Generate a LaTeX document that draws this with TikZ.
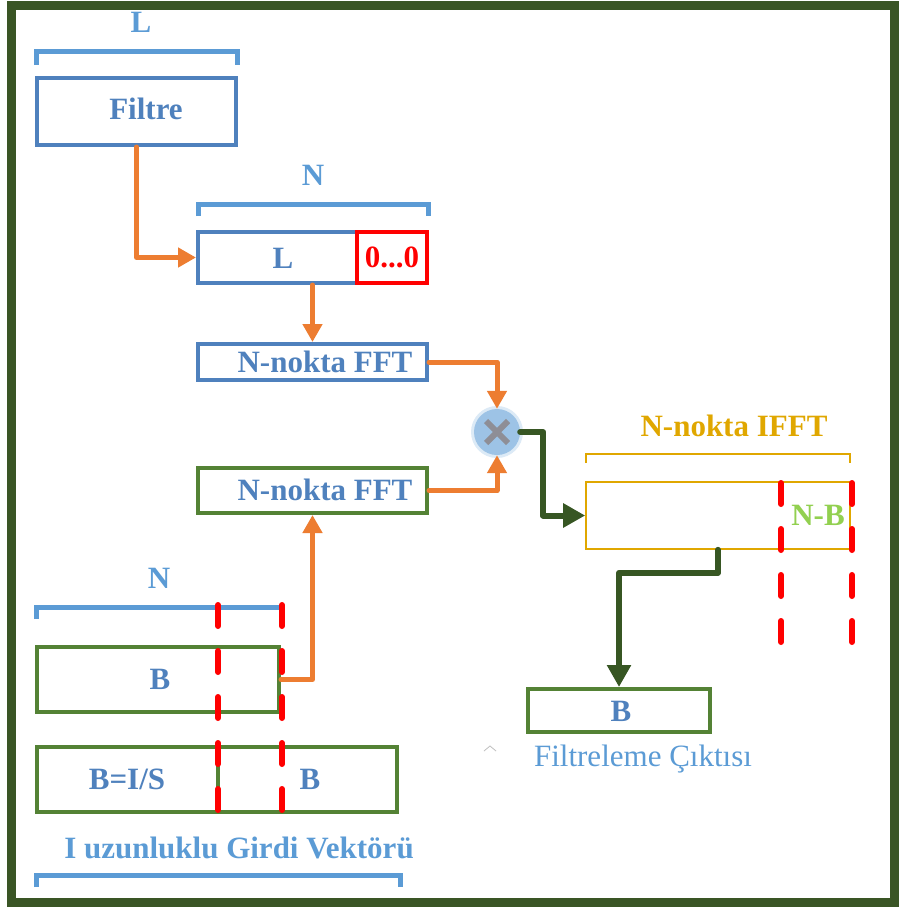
\documentclass[tikz,border=0pt]{standalone}
\usepackage{fontspec}
\setmainfont{Liberation Serif}
\usetikzlibrary{arrows.meta}
\definecolor{framegreen}{RGB}{58,85,37}
\definecolor{boxblue}{RGB}{79,129,189}
\definecolor{lightblue}{RGB}{91,155,213}
\definecolor{boxgreen}{RGB}{84,130,53}
\definecolor{flowor}{RGB}{237,125,49}
\definecolor{goldc}{RGB}{224,167,0}
\definecolor{nbgreen}{RGB}{146,208,80}
\definecolor{darkflow}{RGB}{55,86,35}
\definecolor{multfill}{RGB}{157,195,230}
\definecolor{xgray}{RGB}{142,142,150}
\definecolor{cutred}{RGB}{255,0,0}
\tikzset{
  every node/.style={font=\fontsize{31}{36}\selectfont\bfseries, inner sep=0pt},
  blkblue/.style={draw=boxblue, line width=4pt, minimum width=#1},
  blkgreen/.style={draw=boxgreen, line width=4pt, minimum width=#1},
  bluetxt/.style={text=boxblue},
  labtxt/.style={text=lightblue},
  brace/.style={draw=lightblue, line width=5pt},
  oflow/.style={draw=flowor, line width=5pt, line join=round, line cap=round,
    -{Triangle[width=19pt,length=18pt]}},
  oline/.style={draw=flowor, line width=5pt, line join=round, line cap=round},
  gflow/.style={draw=darkflow, line width=6pt, line join=round, line cap=round,
    -{Triangle[width=23pt,length=22pt]}},
  cutline/.style={draw=cutred, line width=6pt, line cap=round, dash pattern=on 21pt off 25pt},
}
\begin{document}
\begin{tikzpicture}[x=1pt, y=-1pt]
\useasboundingbox (0,0) rectangle (899,907);
\fill[white] (0,0) rectangle (899,907);
% outer frame
\draw[framegreen, line width=9pt] (11,6) rectangle (894,902);

% filter block with its length bracket
\node[labtxt] (lenL) at (141,22) {L};
\draw[brace] (36,65) -- (36,52) -- (237,52) -- (237,65);
\node[blkblue=199pt, minimum height=67pt] (filtre) at (136.5,111.5) {};
\node[bluetxt] (filtretxt) at (146,109) {Filtre};

% zero-padded filter
\node[labtxt] (lenN1) at (313,175) {N};
\draw[brace] (198,216) -- (198,204) -- (428,204) -- (428,216);
\node[blkblue=159pt, minimum height=51pt] (lbox) at (277.5,257.5) {};
\node[bluetxt] (lboxtxt) at (283,258) {L};
\node[draw=cutred, line width=4pt, minimum width=70pt, minimum height=51pt,
      text=cutred] (zbox) at (392,257.5) {0...0};

% FFT blocks
\node[blkblue=229pt, minimum height=36pt] (fft1) at (312.5,362) {};
\node[bluetxt] (fft1txt) at (325,362) {N-nokta FFT};
\node[blkgreen=229pt, minimum height=45pt] (fft2) at (312.5,490.5) {};
\node[bluetxt] (fft2txt) at (325,490) {N-nokta FFT};

% multiplier
\fill[multfill, opacity=0.35] (497,432) circle (26);
\node[circle, fill=multfill, minimum size=46pt] (mult) at (497,432) {};
\draw[xgray, line width=6pt] (486,421) -- (508,443) (486,443) -- (508,421);

% IFFT block
\node[text=goldc] (iffttxt) at (734,426) {N-nokta IFFT};
\draw[goldc, line width=1.6pt] (586,463) -- (586,454) -- (850,454) -- (850,463);
\node[draw=goldc, line width=1.6pt, minimum width=264pt, minimum height=67pt] (ifft) at (718,515.5) {};
\node[text=nbgreen] (nbtxt) at (818,515) {N-B};
\draw[cutline] (781,483) -- (781,645);
\draw[cutline] (852,483) -- (852,645);

% output block
\node[blkgreen=182pt, minimum height=43pt] (out) at (619,710.5) {};
\node[bluetxt] (outtxt) at (621,711) {B};
\node[font=\fontsize{31}{36}\selectfont, text=lightblue] (outlab) at (643,759) {Filtreleme Çıktısı};
\draw[black!25, line width=0.8pt] (484,751) -- (490,746) -- (496,751);

% input blocks
\node[labtxt] (lenN2) at (159,578) {N};
\draw[brace] (36,619) -- (36,607) -- (282,607) -- (282,619);
\node[blkgreen=242pt, minimum height=65pt] (bbox) at (158,679.5) {};
\node[bluetxt] (bboxtxt) at (160,679) {B};
\node[blkgreen=360pt, minimum height=65pt] (inbox) at (217,779.5) {};
\draw[boxgreen, line width=4pt] (218,747) -- (218,812);
\node[bluetxt] (bistxt) at (127,779) {B=I/S};
\node[bluetxt] (inbtxt) at (310,779) {B};
\node[labtxt] (inlab) at (239,848) {I uzunluklu Girdi Vektörü};
\draw[brace] (36,887) -- (36,875) -- (400,875) -- (400,887);
\draw[cutline] (218,605) -- (218,812);
\draw[cutline] (282,605) -- (282,812);

% data flow
\draw[oflow] (filtre.south) |- (lbox.west);
\draw[oflow] (lbox.south -| fft1.north) -- (fft1.north);
\draw[oflow] (fft1.east) -| (mult.north);
\draw[oflow] (fft2.east) -| (mult.south);
\draw[oflow] (bbox.east) -| (fft2.south);
\draw[gflow] (mult.east) -- ++(23,0) |- (ifft.west);
\draw[gflow] (ifft.south) -- ++(0,23) -| (out.north);
\end{tikzpicture}
\end{document}
